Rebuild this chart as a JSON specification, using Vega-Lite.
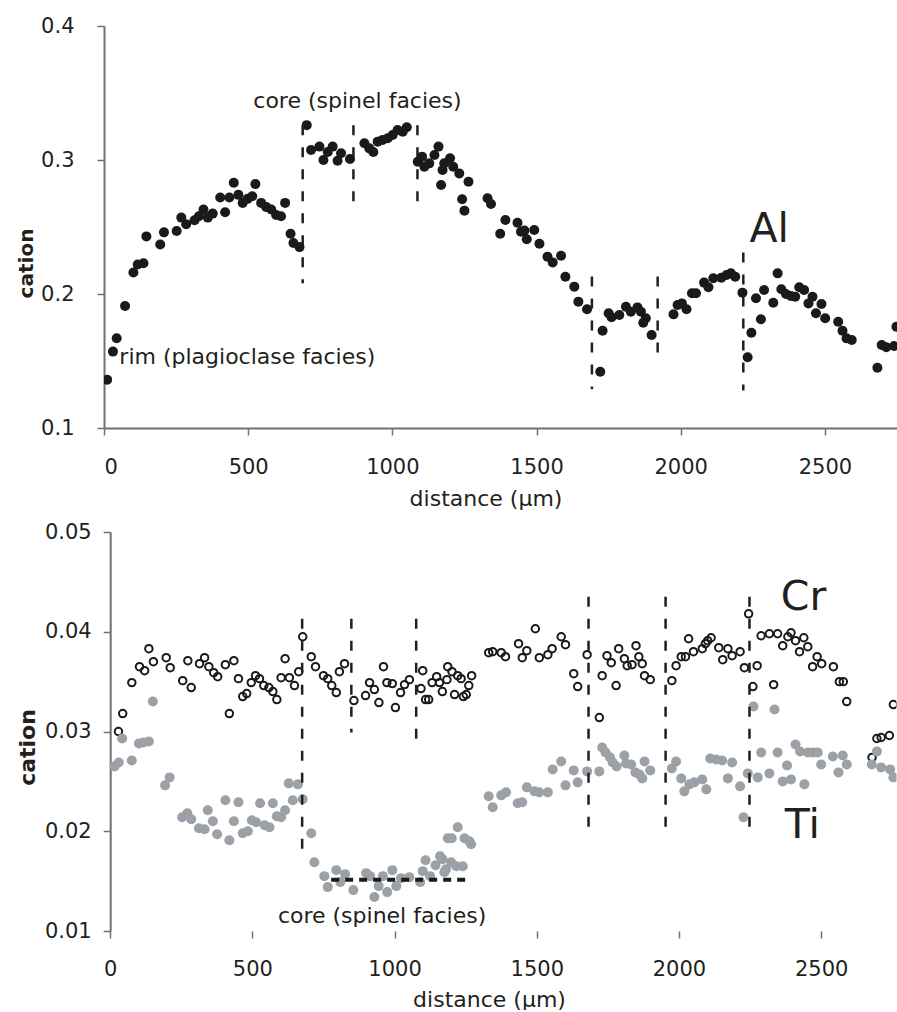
{
  "$schema": "https://vega.github.io/schema/vega-lite/v6.json",
  "padding": {"left": 16, "top": 15, "right": 0, "bottom": 0},
  "spacing": 12,
  "background": "white",
  "config": {
    "font": "DejaVu Sans",
    "view": {"stroke": null},
    "axis": {
      "grid": false,
      "domainColor": "#6b7277",
      "domainWidth": 2,
      "tickColor": "#6b7277",
      "tickWidth": 1.5,
      "tickSize": 7,
      "labelFont": "DejaVu Sans",
      "labelFontSize": 21,
      "labelColor": "#231f20",
      "titleFont": "DejaVu Sans",
      "titleColor": "#231f20",
      "titleFontWeight": "normal"
    }
  },
  "datasets": {
    "al": [
      {"d":11,"v":0.136},{"d":31,"v":0.157},{"d":44,"v":0.167},{"d":73,"v":0.191},{"d":102,"v":0.216},{"d":117,"v":0.222},{"d":137,"v":0.223},{"d":147,"v":0.243},{"d":195,"v":0.237},{"d":208,"v":0.246},{"d":252,"v":0.247},{"d":268,"v":0.257},{"d":285,"v":0.252},{"d":314,"v":0.255},{"d":329,"v":0.258},{"d":345,"v":0.263},{"d":360,"v":0.257},{"d":377,"v":0.26},{"d":403,"v":0.272},{"d":420,"v":0.261},{"d":435,"v":0.272},{"d":450,"v":0.283},{"d":466,"v":0.274},{"d":481,"v":0.268},{"d":498,"v":0.271},{"d":514,"v":0.273},{"d":525,"v":0.282},{"d":545,"v":0.268},{"d":562,"v":0.265},{"d":580,"v":0.263},{"d":597,"v":0.259},{"d":614,"v":0.258},{"d":628,"v":0.268},{"d":647,"v":0.245},{"d":657,"v":0.238},{"d":678,"v":0.235},
      {"d":703,"v":0.326},{"d":718,"v":0.3075},{"d":747,"v":0.31},{"d":761,"v":0.3},{"d":776,"v":0.306},{"d":793,"v":0.31},{"d":810,"v":0.2995},{"d":822,"v":0.305},{"d":853,"v":0.3007},{"d":903,"v":0.3125},{"d":920,"v":0.3087},{"d":934,"v":0.306},{"d":949,"v":0.3137},{"d":966,"v":0.315},{"d":984,"v":0.3162},{"d":1001,"v":0.3187},{"d":1018,"v":0.3224},{"d":1036,"v":0.3211},{"d":1050,"v":0.3244},
      {"d":1088,"v":0.2987},{"d":1103,"v":0.3025},{"d":1111,"v":0.295},{"d":1128,"v":0.2975},{"d":1146,"v":0.3037},{"d":1160,"v":0.31},{"d":1169,"v":0.2813},{"d":1174,"v":0.2925},{"d":1180,"v":0.2975},{"d":1200,"v":0.3013},{"d":1211,"v":0.295},{"d":1232,"v":0.29},{"d":1242,"v":0.2707},{"d":1250,"v":0.2622},{"d":1264,"v":0.2838},{"d":1330,"v":0.2714},{"d":1342,"v":0.2672},{"d":1374,"v":0.245},{"d":1392,"v":0.2552},{"d":1434,"v":0.2532},{"d":1446,"v":0.2465},{"d":1458,"v":0.2473},{"d":1466,"v":0.2408},{"d":1492,"v":0.2478},{"d":1510,"v":0.2375},{"d":1538,"v":0.2278},{"d":1556,"v":0.2236},{"d":1585,"v":0.2286},{"d":1600,"v":0.2129},{"d":1631,"v":0.2055},{"d":1645,"v":0.1943},{"d":1675,"v":0.1886},
      {"d":1721,"v":0.142},{"d":1729,"v":0.1726},{"d":1750,"v":0.1856},{"d":1760,"v":0.1826},{"d":1787,"v":0.1843},{"d":1810,"v":0.1905},{"d":1827,"v":0.1868},{"d":1850,"v":0.19},{"d":1862,"v":0.1868},{"d":1870,"v":0.1786},{"d":1879,"v":0.1819},{"d":1899,"v":0.1694},
      {"d":1975,"v":0.1848},{"d":1989,"v":0.1918},{"d":2004,"v":0.193},{"d":2020,"v":0.1886},{"d":2039,"v":0.2005},{"d":2053,"v":0.2005},{"d":2081,"v":0.2085},{"d":2096,"v":0.205},{"d":2113,"v":0.2117},{"d":2141,"v":0.2122},{"d":2159,"v":0.2142},{"d":2174,"v":0.2154},{"d":2189,"v":0.2129},{"d":2214,"v":0.201},
      {"d":2232,"v":0.1528},{"d":2245,"v":0.1711},{"d":2261,"v":0.1968},{"d":2278,"v":0.1811},{"d":2289,"v":0.203},{"d":2321,"v":0.1935},{"d":2336,"v":0.2154},{"d":2349,"v":0.2035},{"d":2365,"v":0.2},{"d":2382,"v":0.1985},{"d":2397,"v":0.198},{"d":2411,"v":0.205},{"d":2428,"v":0.203},{"d":2443,"v":0.193},{"d":2457,"v":0.198},{"d":2469,"v":0.1856},{"d":2488,"v":0.1925},{"d":2501,"v":0.1819},{"d":2546,"v":0.1793},{"d":2561,"v":0.1726},{"d":2575,"v":0.1669},{"d":2593,"v":0.1657},{"d":2682,"v":0.145},{"d":2697,"v":0.1619},{"d":2713,"v":0.1602},{"d":2740,"v":0.1612},{"d":2748,"v":0.1756}
    ],
    "cr": [
      {"d":29,"v":0.03},{"d":44,"v":0.0318},{"d":76,"v":0.0349},{"d":103,"v":0.0365},{"d":121,"v":0.0361},{"d":136,"v":0.0383},{"d":152,"v":0.037},{"d":197,"v":0.0374},{"d":211,"v":0.0364},{"d":255,"v":0.0351},{"d":273,"v":0.0371},{"d":285,"v":0.0344},{"d":314,"v":0.0368},{"d":332,"v":0.0374},{"d":347,"v":0.0365},{"d":364,"v":0.0359},{"d":378,"v":0.0355},{"d":405,"v":0.0367},{"d":419,"v":0.0318},{"d":435,"v":0.0371},{"d":451,"v":0.0353},{"d":466,"v":0.0335},{"d":480,"v":0.0338},{"d":496,"v":0.0349},{"d":511,"v":0.0356},{"d":525,"v":0.0353},{"d":540,"v":0.0346},{"d":558,"v":0.0344},{"d":572,"v":0.034},{"d":586,"v":0.0332},{"d":601,"v":0.0354},{"d":615,"v":0.0373},{"d":630,"v":0.0354},{"d":648,"v":0.0346},{"d":663,"v":0.036},{"d":677,"v":0.0395},
      {"d":707,"v":0.0375},{"d":722,"v":0.0365},{"d":750,"v":0.0356},{"d":765,"v":0.0353},{"d":779,"v":0.0346},{"d":795,"v":0.0339},{"d":806,"v":0.036},{"d":824,"v":0.0368},{"d":857,"v":0.0331},{"d":898,"v":0.0336},{"d":912,"v":0.0349},{"d":929,"v":0.0342},{"d":945,"v":0.0329},{"d":961,"v":0.0365},{"d":973,"v":0.0349},{"d":992,"v":0.0348},{"d":1003,"v":0.0324},{"d":1021,"v":0.0339},{"d":1035,"v":0.0347},{"d":1052,"v":0.0352},
      {"d":1093,"v":0.0343},{"d":1099,"v":0.0361},{"d":1109,"v":0.0332},{"d":1120,"v":0.0332},{"d":1132,"v":0.0349},{"d":1148,"v":0.0355},{"d":1158,"v":0.0349},{"d":1168,"v":0.034},{"d":1184,"v":0.0352},{"d":1187,"v":0.0365},{"d":1202,"v":0.036},{"d":1211,"v":0.0337},{"d":1222,"v":0.0356},{"d":1234,"v":0.0353},{"d":1242,"v":0.0335},{"d":1252,"v":0.0337},{"d":1261,"v":0.0346},{"d":1271,"v":0.0356},
      {"d":1331,"v":0.0379},{"d":1345,"v":0.038},{"d":1375,"v":0.0379},{"d":1390,"v":0.0375},{"d":1436,"v":0.0388},{"d":1449,"v":0.0374},{"d":1465,"v":0.0381},{"d":1495,"v":0.0403},{"d":1509,"v":0.0374},{"d":1539,"v":0.0377},{"d":1554,"v":0.0383},{"d":1586,"v":0.0395},{"d":1601,"v":0.0387},{"d":1630,"v":0.0358},{"d":1644,"v":0.0345},{"d":1677,"v":0.0377},
      {"d":1720,"v":0.0314},{"d":1730,"v":0.0356},{"d":1747,"v":0.0376},{"d":1762,"v":0.0369},{"d":1779,"v":0.0346},{"d":1788,"v":0.0383},{"d":1808,"v":0.0373},{"d":1818,"v":0.0366},{"d":1835,"v":0.0367},{"d":1849,"v":0.0386},{"d":1859,"v":0.0375},{"d":1871,"v":0.0368},{"d":1879,"v":0.0356},{"d":1899,"v":0.0352},
      {"d":1975,"v":0.0351},{"d":1990,"v":0.0366},{"d":2008,"v":0.0375},{"d":2023,"v":0.0375},{"d":2034,"v":0.0393},{"d":2051,"v":0.038},{"d":2082,"v":0.0383},{"d":2093,"v":0.0388},{"d":2101,"v":0.0391},{"d":2113,"v":0.0394},{"d":2140,"v":0.0384},{"d":2154,"v":0.0372},{"d":2172,"v":0.0383},{"d":2187,"v":0.0376},{"d":2215,"v":0.038},{"d":2230,"v":0.0364},
      {"d":2245,"v":0.0418},{"d":2260,"v":0.0345},{"d":2275,"v":0.0366},{"d":2289,"v":0.0396},{"d":2318,"v":0.0398},{"d":2333,"v":0.0347},{"d":2347,"v":0.0398},{"d":2365,"v":0.0386},{"d":2383,"v":0.0395},{"d":2394,"v":0.0399},{"d":2410,"v":0.0391},{"d":2424,"v":0.038},{"d":2439,"v":0.0394},{"d":2453,"v":0.0385},{"d":2470,"v":0.0365},{"d":2486,"v":0.0375},{"d":2502,"v":0.0368},{"d":2543,"v":0.0365},{"d":2564,"v":0.035},{"d":2578,"v":0.035},{"d":2590,"v":0.033},{"d":2679,"v":0.0274},{"d":2696,"v":0.0293},{"d":2711,"v":0.0294},{"d":2740,"v":0.0296},{"d":2754,"v":0.0327}
    ],
    "ti": [
      {"d":15,"v":0.0265},{"d":30,"v":0.0269},{"d":42,"v":0.0293},{"d":76,"v":0.0271},{"d":101,"v":0.0288},{"d":117,"v":0.0289},{"d":136,"v":0.029},{"d":150,"v":0.033},{"d":193,"v":0.0246},{"d":209,"v":0.0254},{"d":253,"v":0.0214},{"d":271,"v":0.0218},{"d":285,"v":0.0212},{"d":312,"v":0.0203},{"d":332,"v":0.0202},{"d":343,"v":0.0221},{"d":361,"v":0.021},{"d":376,"v":0.0197},{"d":405,"v":0.0231},{"d":419,"v":0.0191},{"d":435,"v":0.021},{"d":451,"v":0.0229},{"d":466,"v":0.0198},{"d":484,"v":0.02},{"d":498,"v":0.0211},{"d":513,"v":0.0209},{"d":527,"v":0.0228},{"d":543,"v":0.0206},{"d":560,"v":0.0204},{"d":572,"v":0.0228},{"d":586,"v":0.0215},{"d":601,"v":0.0214},{"d":615,"v":0.0221},{"d":628,"v":0.0248},{"d":642,"v":0.0231},{"d":660,"v":0.0247},{"d":677,"v":0.0232},
      {"d":707,"v":0.0198},{"d":718,"v":0.0169},{"d":753,"v":0.0155},{"d":765,"v":0.0144},{"d":795,"v":0.0161},{"d":809,"v":0.0149},{"d":826,"v":0.0157},{"d":855,"v":0.0141},{"d":900,"v":0.0158},{"d":914,"v":0.0155},{"d":929,"v":0.0134},{"d":944,"v":0.0145},{"d":959,"v":0.0155},{"d":974,"v":0.0139},{"d":992,"v":0.0161},{"d":1006,"v":0.0145},{"d":1023,"v":0.0153},{"d":1052,"v":0.0154},
      {"d":1090,"v":0.0149},{"d":1099,"v":0.016},{"d":1109,"v":0.0171},{"d":1125,"v":0.0155},{"d":1144,"v":0.0166},{"d":1160,"v":0.0175},{"d":1169,"v":0.0172},{"d":1175,"v":0.0159},{"d":1181,"v":0.0162},{"d":1187,"v":0.0193},{"d":1199,"v":0.0169},{"d":1201,"v":0.0193},{"d":1217,"v":0.0165},{"d":1222,"v":0.0204},{"d":1240,"v":0.0165},{"d":1246,"v":0.0193},{"d":1263,"v":0.019},{"d":1269,"v":0.0187},
      {"d":1331,"v":0.0235},{"d":1345,"v":0.0224},{"d":1375,"v":0.0236},{"d":1392,"v":0.0239},{"d":1433,"v":0.0228},{"d":1449,"v":0.0229},{"d":1465,"v":0.0244},{"d":1492,"v":0.024},{"d":1509,"v":0.0239},{"d":1539,"v":0.0239},{"d":1556,"v":0.0262},{"d":1586,"v":0.027},{"d":1601,"v":0.0246},{"d":1630,"v":0.0261},{"d":1644,"v":0.0249},{"d":1677,"v":0.026},
      {"d":1720,"v":0.026},{"d":1730,"v":0.0284},{"d":1742,"v":0.0279},{"d":1758,"v":0.0274},{"d":1767,"v":0.0269},{"d":1781,"v":0.0265},{"d":1808,"v":0.0276},{"d":1814,"v":0.0268},{"d":1832,"v":0.0267},{"d":1847,"v":0.0259},{"d":1861,"v":0.0257},{"d":1871,"v":0.0253},{"d":1879,"v":0.027},{"d":1899,"v":0.0261},
      {"d":1975,"v":0.0263},{"d":1990,"v":0.027},{"d":2008,"v":0.0253},{"d":2019,"v":0.024},{"d":2037,"v":0.0247},{"d":2054,"v":0.0249},{"d":2082,"v":0.0252},{"d":2096,"v":0.0242},{"d":2110,"v":0.0273},{"d":2131,"v":0.0272},{"d":2152,"v":0.0271},{"d":2172,"v":0.0253},{"d":2187,"v":0.0269},{"d":2215,"v":0.0245},{"d":2227,"v":0.0214},
      {"d":2242,"v":0.0258},{"d":2262,"v":0.0325},{"d":2277,"v":0.0254},{"d":2289,"v":0.0279},{"d":2318,"v":0.0258},{"d":2336,"v":0.0322},{"d":2347,"v":0.0279},{"d":2365,"v":0.025},{"d":2380,"v":0.0266},{"d":2394,"v":0.0252},{"d":2410,"v":0.0287},{"d":2426,"v":0.028},{"d":2441,"v":0.0247},{"d":2453,"v":0.0279},{"d":2470,"v":0.0279},{"d":2488,"v":0.0279},{"d":2500,"v":0.0267},{"d":2541,"v":0.0275},{"d":2561,"v":0.0259},{"d":2576,"v":0.0276},{"d":2590,"v":0.0267},{"d":2678,"v":0.0267},{"d":2696,"v":0.028},{"d":2711,"v":0.0264},{"d":2743,"v":0.0262},{"d":2754,"v":0.0254}
    ],
    "rulesTop": [
      {"d":689,"v1":0.326,"v2":0.208},{"d":865,"v1":0.326,"v2":0.261},{"d":1087,"v1":0.326,"v2":0.261},{"d":1692,"v1":0.213,"v2":0.129},{"d":1920,"v1":0.213,"v2":0.148},{"d":2217,"v1":0.231,"v2":0.128}
    ],
    "rulesBot": [
      {"d":675,"v1":0.0413,"v2":0.0179},{"d":848,"v1":0.0413,"v2":0.0299},{"d":1076,"v1":0.0413,"v2":0.0285},{"d":1682,"v1":0.0435,"v2":0.0195},{"d":1953,"v1":0.0435,"v2":0.02},{"d":2248,"v1":0.0435,"v2":0.0195}
    ],
    "dotted": [{"d1":777,"d2":1269,"v":0.01513}],
    "noteTop": [{"d":879,"v":0.3386,"t":"core (spinel facies)"},{"d":497,"v":0.1475,"t":"rim (plagioclase facies)"}],
    "bigTop": [{"d":2307,"v":0.2388,"t":"Al"}],
    "noteBot": [{"d":956,"v":0.0108,"t":"core (spinel facies)"}],
    "bigBot": [{"d":2438,"v":0.0422,"t":"Cr"},{"d":2434,"v":0.0193,"t":"Ti"}]
  },
  "vconcat": [
    {
      "width": 793,
      "height": 402,
      "layer": [
        {
          "data": {"name": "al"},
          "mark": {"type": "circle", "size": 100, "opacity": 1, "color": "#1a1a1a", "clip": true},
          "encoding": {
            "x": {"field": "d", "type": "quantitative", "scale": {"domain": [0, 2750], "nice": false},
              "axis": {"values": [0, 500, 1000, 1500, 2000, 2500], "format": "d", "labelPadding": 21, "title": "distance (μm)", "titleFontSize": 22, "titleX": 381.5, "titleY": 77, "titleBaseline": "alphabetic"}},
            "y": {"field": "v", "type": "quantitative", "scale": {"domain": [0.1, 0.4], "nice": false},
              "axis": {"values": [0.1, 0.2, 0.3, 0.4], "format": ".1f", "labelPadding": 23, "title": "cation", "titleFontWeight": "bold", "titleFontSize": 20, "titleX": -71.5, "titleY": 237, "titleBaseline": "alphabetic", "titleAlign": "center"}}
          }
        },
        {
          "mark": {"type": "rule", "color": "#6b7277", "strokeWidth": 2},
          "encoding": {"y": {"datum": 0.4}}
        },
        {
          "data": {"name": "rulesTop"},
          "mark": {"type": "rule", "color": "#231f20", "strokeWidth": 2.5, "strokeDash": [10, 12]},
          "encoding": {
            "x": {"field": "d", "type": "quantitative"},
            "y": {"field": "v1", "type": "quantitative"},
            "y2": {"field": "v2"}
          }
        },
        {
          "data": {"name": "noteTop"},
          "mark": {"type": "text", "fontSize": 22, "align": "center", "baseline": "alphabetic", "color": "#231f20"},
          "encoding": {
            "x": {"field": "d", "type": "quantitative"},
            "y": {"field": "v", "type": "quantitative"},
            "text": {"field": "t"}
          }
        },
        {
          "data": {"name": "bigTop"},
          "mark": {"type": "text", "fontSize": 41, "align": "center", "baseline": "alphabetic", "color": "#231f20"},
          "encoding": {
            "x": {"field": "d", "type": "quantitative"},
            "y": {"field": "v", "type": "quantitative"},
            "text": {"field": "t"}
          }
        }
      ]
    },
    {
      "width": 792.5,
      "height": 399,
      "layer": [
        {
          "data": {"name": "cr"},
          "mark": {"type": "point", "shape": "circle", "size": 56, "filled": false, "strokeWidth": 2, "opacity": 1, "color": "#1a1a1a", "clip": true},
          "encoding": {
            "x": {"field": "d", "type": "quantitative", "scale": {"domain": [-21.8, 2765], "nice": false, "zero": false},
              "axis": {"values": [0, 500, 1000, 1500, 2000, 2500], "format": "d", "labelPadding": 20, "domain": false, "title": "distance (μm)", "titleFontSize": 22, "titleX": 385, "titleY": 75, "titleBaseline": "alphabetic"}},
            "y": {"field": "v", "type": "quantitative", "scale": {"domain": [0.01, 0.05], "nice": false},
              "axis": {"values": [0.01, 0.02, 0.03, 0.04, 0.05], "format": ".2f", "offset": -6.2, "labelPadding": 12, "title": "cation", "titleFontWeight": "bold", "titleFontSize": 22, "titleX": -75.7, "titleY": 215, "titleBaseline": "alphabetic", "titleAlign": "center"}}
          }
        },
        {
          "data": {"name": "ti"},
          "mark": {"type": "circle", "size": 100, "opacity": 1, "color": "#9ba1a6", "clip": true},
          "encoding": {
            "x": {"field": "d", "type": "quantitative"},
            "y": {"field": "v", "type": "quantitative"}
          }
        },
        {
          "mark": {"type": "rule", "color": "#6b7277", "strokeWidth": 2},
          "encoding": {"y": {"datum": 0.05}, "x": {"datum": 0}, "x2": {"datum": 2765}}
        },
        {
          "mark": {"type": "rule", "color": "#4a4f53", "strokeWidth": 2},
          "encoding": {"y": {"datum": 0.01}, "x": {"datum": 0}, "x2": {"datum": 2765}}
        },
        {
          "data": {"name": "rulesBot"},
          "mark": {"type": "rule", "color": "#231f20", "strokeWidth": 2.5, "strokeDash": [10, 12]},
          "encoding": {
            "x": {"field": "d", "type": "quantitative"},
            "y": {"field": "v1", "type": "quantitative"},
            "y2": {"field": "v2"}
          }
        },
        {
          "data": {"name": "dotted"},
          "mark": {"type": "rule", "color": "#1a1a1a", "strokeWidth": 4, "strokeDash": [8, 6]},
          "encoding": {
            "x": {"field": "d1", "type": "quantitative"},
            "x2": {"field": "d2"},
            "y": {"field": "v", "type": "quantitative"}
          }
        },
        {
          "data": {"name": "noteBot"},
          "mark": {"type": "text", "fontSize": 22, "align": "center", "baseline": "alphabetic", "color": "#231f20"},
          "encoding": {
            "x": {"field": "d", "type": "quantitative"},
            "y": {"field": "v", "type": "quantitative"},
            "text": {"field": "t"}
          }
        },
        {
          "data": {"name": "bigBot"},
          "mark": {"type": "text", "fontSize": 41, "align": "center", "baseline": "alphabetic", "color": "#231f20"},
          "encoding": {
            "x": {"field": "d", "type": "quantitative"},
            "y": {"field": "v", "type": "quantitative"},
            "text": {"field": "t"}
          }
        }
      ]
    }
  ]
}
